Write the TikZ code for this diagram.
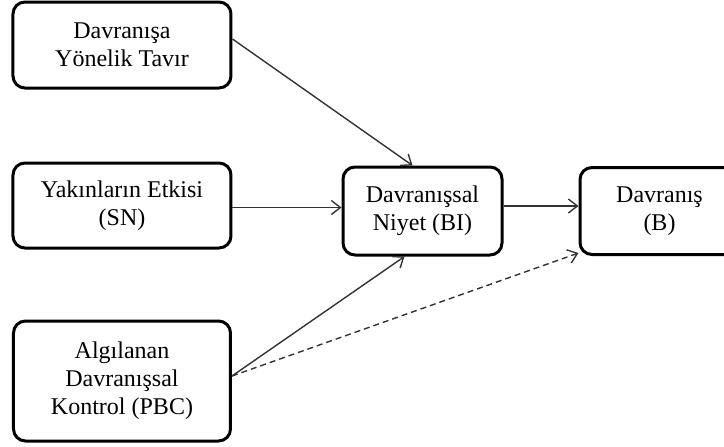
\documentclass[tikz,border=0pt]{standalone}
\usepackage{fontspec}
\setmainfont{Liberation Serif}
\usetikzlibrary{arrows.meta,positioning,shapes}
\tikzset{
    %Define standard arrow tip
    >={Straight Barb[length=4.5pt,width=7pt]},
    %Define style for boxes
    tpbnode/.style={
             rectangle, rounded corners=6pt,
             draw=black, line width=1.5pt,
             align=center, inner sep=2pt,
             font=\fontsize{12}{14}\selectfont},
    % Define arrow style
    tpbarrow/.style={
            ->,
            draw=black!80,
            line width=0.7pt},
    pbcarrow/.style={
              ->,
              draw=black!80,
              line width=0.7pt,
              dash pattern=on 3pt off 2pt}
}
\begin{document}
\begin{tikzpicture}
 \useasboundingbox (-61pt,102.75pt) rectangle (301pt,-120.25pt);
 \node[tpbnode, minimum width=109pt, minimum height=42.5pt] (sn) at (0,0) {Yakınların Etkisi\\(SN)};
 \node[tpbnode, minimum width=109pt, minimum height=43pt, above=36pt of sn] (att) {Davranışa\\Yönelik Tavır};
 \node[tpbnode, minimum width=108.5pt, minimum height=60pt, below=35pt of sn] (pbc) {Algılanan\\Davranışsal\\Kontrol (PBC)};
 \node[tpbnode, minimum width=79.5pt, minimum height=44pt, right=54.5pt of sn, yshift=-2.75pt] (bi) {Davranışsal\\Niyet (BI)};
 \node[tpbnode, minimum width=79.5pt, minimum height=43.5pt, right=37.5pt of bi] (b) {Davranış\\(B)};
 \path ([yshift=3pt]att.east) edge[tpbarrow] ([xshift=-5pt]bi.north)
       ([yshift=-1pt]sn.east) edge[tpbarrow] ([yshift=-1pt]sn.east -| bi.west)
       ([yshift=2.5pt]pbc.east) edge[tpbarrow] ([xshift=-9pt]bi.south)
       ([yshift=2.5pt]pbc.east) edge[pbcarrow] ([yshift=1.5pt]b.south west)
       ([yshift=2.5pt]bi.east) edge[tpbarrow] ([yshift=2.5pt]bi.east -| b.west);
\end{tikzpicture}
\end{document}
